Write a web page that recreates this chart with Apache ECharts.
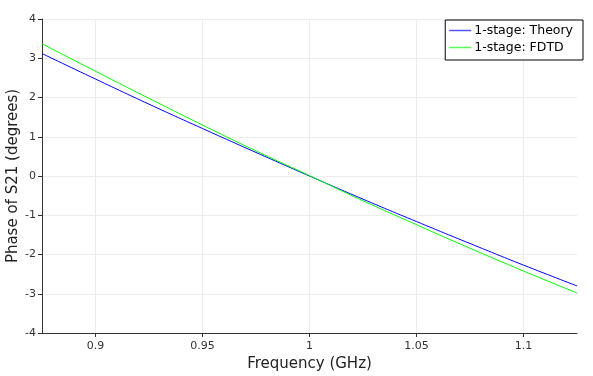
<!DOCTYPE html>
<html><head><meta charset="utf-8">
<script src="https://cdn.jsdelivr.net/npm/echarts@6/dist/echarts.min.js"></script>
<style>html,body{margin:0;padding:0;background:#fff}#c{width:593px;height:376px}</style>
</head><body><div id="c"></div>
<script>
const freq = [0.875, 0.9, 0.925, 0.95, 0.975, 1.0, 1.025, 1.05, 1.075, 1.1, 1.125];
const theory = [3.12, 2.47, 1.83, 1.21, 0.60, 0.0, -0.59, -1.16, -1.72, -2.27, -2.80];
const fdtd = [3.37, 2.67, 1.98, 1.30, 0.64, 0.01, -0.63, -1.24, -1.84, -2.42, -2.98];
const seriesNames = ['1-stage: Theory', '1-stage: FDTD'];
const xTicks = [0.9, 0.95, 1, 1.05, 1.1];

const chart = echarts.init(document.getElementById('c'), null, {renderer: 'canvas'});
const font = 'DejaVu Sans';
chart.setOption({
  animation: false,
  backgroundColor: '#fff',
  grid: {left: 42, right: 16, top: 19, bottom: 43, containLabel: false, outerBoundsMode: 'none'},
  legend: {
    orient: 'vertical', right: 10, top: 20,
    backgroundColor: '#fff', borderColor: '#000', borderWidth: 1, borderRadius: 0,
    padding: [3, 10, 5, 4], itemGap: 2, itemWidth: 22, itemHeight: 1.5, icon: 'rect',
    textStyle: {fontFamily: font, fontSize: 12.5, color: '#000', padding: [0, 0, 0, -2], lineHeight: 15},
    data: seriesNames
  },
  xAxis: {
    type: 'value', min: 0.875, max: 1.125,
    name: 'Frequency (GHz)', nameLocation: 'middle', nameGap: 24, nameMoveOverlap: false,
    nameTextStyle: {fontFamily: font, fontSize: 15, color: '#222'},
    axisLine: {show: true, onZero: false, lineStyle: {color: '#333', width: 1}},
    axisTick: {show: true, length: 4, lineStyle: {color: '#333'},
      customValues: xTicks},
    axisLabel: {fontFamily: font, fontSize: 11, color: '#333', margin: 8,
      customValues: xTicks,
      formatter: v => String(+v.toFixed(3))},
    splitLine: {show: true, lineStyle: {color: '#ececec', width: 1},
      customValues: xTicks}
  },
  yAxis: {
    type: 'value', min: -4, max: 4, interval: 1,
    name: 'Phase of S21 (degrees)', nameLocation: 'middle', nameGap: 21, nameMoveOverlap: false,
    nameTextStyle: {fontFamily: font, fontSize: 15, color: '#222'},
    axisLine: {show: true, lineStyle: {color: '#333', width: 1}},
    axisTick: {show: true, length: 4, lineStyle: {color: '#333'}},
    axisLabel: {fontFamily: font, fontSize: 11, color: '#333', margin: 6},
    splitLine: {show: true, lineStyle: {color: '#ececec', width: 1}}
  },
  series: [
    {name: seriesNames[0], type: 'line', showSymbol: false, smooth: true,
     data: freq.map((f, i) => [f, theory[i]]),
     lineStyle: {color: '#0000ff', width: 1}, itemStyle: {color: '#5555ff'}},
    {name: seriesNames[1], type: 'line', showSymbol: false, smooth: true,
     data: freq.map((f, i) => [f, fdtd[i]]),
     lineStyle: {color: '#00ff00', width: 1}, itemStyle: {color: '#55ff55'}}
  ]
});
</script></body></html>
